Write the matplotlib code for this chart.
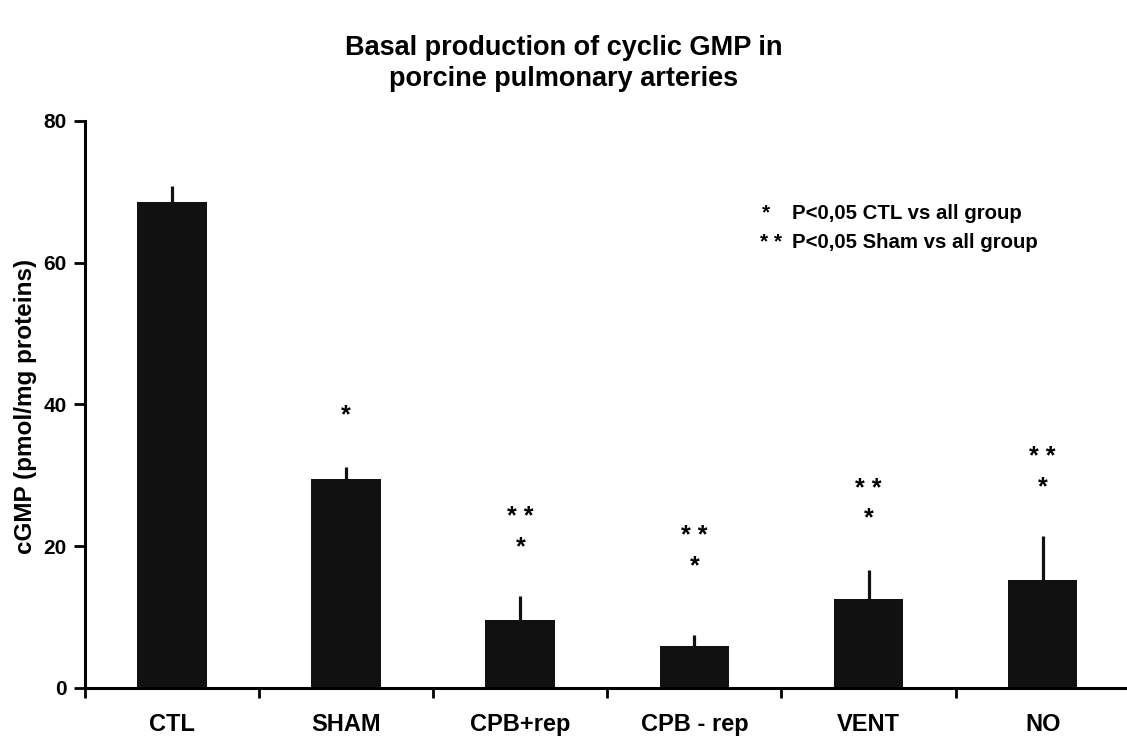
import numpy as np
import matplotlib.pyplot as plt

plt.rcParams['font.family'] = ['Liberation Sans', 'DejaVu Sans']
plt.rcParams['font.weight'] = 'bold'

groups = ['CTL', 'SHAM', 'CPB+rep', 'CPB - rep', 'VENT', 'NO']
means = [68.5, 29.5, 9.6, 5.9, 12.6, 15.2]
errs = [2.3, 1.7, 3.4, 1.6, 4.0, 6.2]
# significance marks: y position per group
marks_ctl = [None, 38.5, 19.9, 17.2, 24.0, 28.3]      # "*"  vs CTL
marks_sham = [None, None, 24.1, 21.4, 28.1, 32.6]     # "* *" vs Sham

fig = plt.figure(figsize=(11.27, 7.42), dpi=100)
ax = fig.add_axes([0.0754, 0.0728, 0.927, 0.7642])

x = np.arange(len(groups))
ax.bar(x, means, width=0.4, color='#111111', zorder=2)
ax.errorbar(x, means, yerr=[np.zeros(len(errs)), errs], fmt='none',
            ecolor='#111111', elinewidth=2.3, capsize=0, zorder=1)

for xi, y in zip(x, marks_ctl):
    if y is not None:
        ax.text(xi, y, '*', ha='center', va='center', fontsize=18, fontweight='bold')
for xi, y in zip(x, marks_sham):
    if y is not None:
        ax.text(xi, y, '* *', ha='center', va='center', fontsize=18, fontweight='bold')

ax.text(3.39, 67.0, '*', ha='left', va='center', fontsize=15, fontweight='bold')
ax.text(3.56, 67.0, 'P<0,05 CTL vs all group', ha='left', va='center', fontsize=14.7, fontweight='bold')
ax.text(3.375, 62.8, '* *', ha='left', va='center', fontsize=15, fontweight='bold')
ax.text(3.56, 62.8, 'P<0,05 Sham vs all group', ha='left', va='center', fontsize=14.7, fontweight='bold')

ax.set_xlim(-0.5, 5.5)
ax.set_ylim(0, 80)
ax.set_yticks([0, 20, 40, 60, 80])
ax.set_xticks(x)
ax.set_xticklabels(groups)
ax.set_xticks(np.arange(-0.5, 5.0, 1.0), minor=True)
ax.tick_params(axis='x', which='major', length=0, pad=18, labelsize=17)
ax.tick_params(axis='x', which='minor', length=7, width=2, direction='out')
ax.tick_params(axis='y', length=8, width=2, labelsize=15, pad=5)
for lab in ax.get_xticklabels() + ax.get_yticklabels():
    lab.set_fontweight('bold')

ax.spines['top'].set_visible(False)
ax.spines['right'].set_visible(False)
ax.spines['left'].set_linewidth(2.2)
ax.spines['bottom'].set_linewidth(2.2)

ax.set_ylabel('cGMP (pmol/mg proteins)', fontsize=17.5, fontweight='bold')
ax.yaxis.set_label_coords(-0.046, 0.497)
fig.text(0.5, 0.915, 'Basal production of cyclic GMP in\nporcine pulmonary arteries',
         ha='center', va='center', fontsize=19.5, fontweight='bold', linespacing=1.25)

fig.savefig('out.png', dpi=100)
